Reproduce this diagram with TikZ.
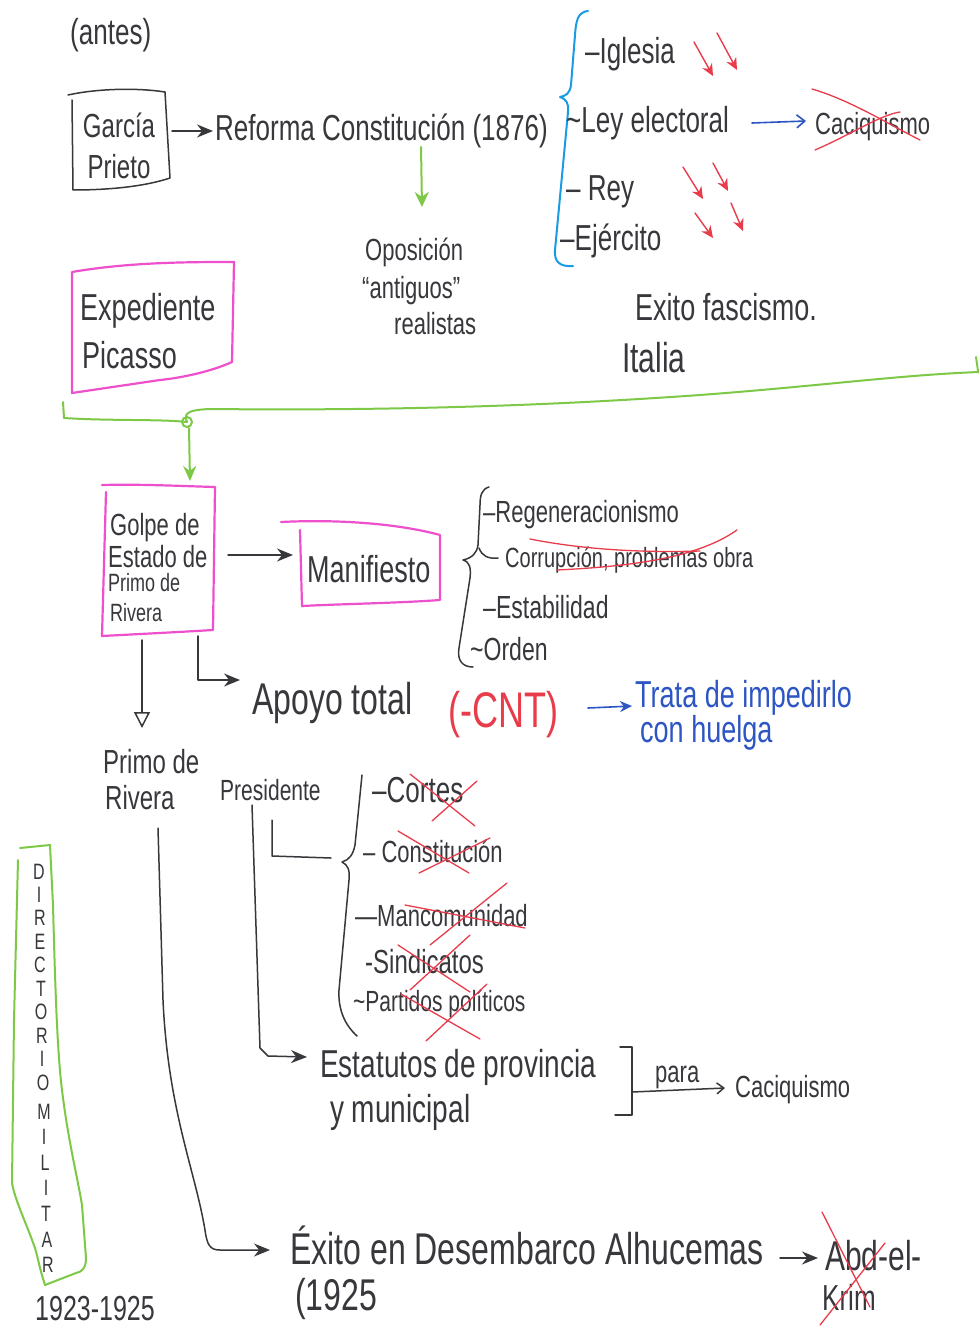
\documentclass[tikz,border=0pt]{standalone}
\usepackage{fontspec}
\setmainfont[FakeStretch=0.72]{Liberation Sans}
\usetikzlibrary{arrows.meta}
\definecolor{ink}{RGB}{55,55,60}
\definecolor{pinkm}{RGB}{238,80,205}
\definecolor{greenm}{RGB}{125,200,70}
\definecolor{cyanm}{RGB}{25,155,230}
\definecolor{bluem}{RGB}{45,85,195}
\definecolor{redm}{RGB}{232,60,75}
\newcommand\fz[1]{\fontsize{\fpeval{1.39*#1}}{\fpeval{1.6*#1}}\selectfont}
\begin{document}
\begin{tikzpicture}[x=1pt,y=-1pt,line cap=round,line join=round,
  t/.style={inner sep=0pt,anchor=base west,text=ink},
  pen/.style={draw=ink,line width=1.5pt},
  pk/.style={draw=pinkm,line width=2.2pt},
  gr/.style={draw=greenm,line width=2pt},
  cb/.style={draw=cyanm,line width=2pt},
  cross/.style={draw=redm,line width=1.3pt},
  redarr/.style={draw=redm,line width=1.4pt,-{Stealth[length=12pt,width=11pt]}},
  inkarr/.style={pen,-{Stealth[length=16pt,width=13pt]}},
  vl/.style={inner sep=0pt,anchor=center,text=ink,font=\fz{16}}]
\useasboundingbox (0,0) rectangle (979,1327);
\fill[white] (0,0) rectangle (979,1327);

% ---------- top section ----------
\node[t,font=\fz{26}] (antes) at (70,45) {(antes)};
\draw[pen] (68,95) .. controls (100,88) and (140,88) .. (165,92) -- (170,178) .. controls (140,188) and (100,190) .. (73,190) -- (72,100);
\node[t,font=\fz{24},anchor=base] (garcia) at (119,138) {García};
\node[t,font=\fz{24},anchor=base] (prieto) at (119,178) {Prieto};
\coordinate (garciaE) at (172,131);
\coordinate (reformaW) at (213,131);
\node[t,font=\fz{26}] (reforma) at (215,140) {Reforma Constitución (1876)};
\draw[inkarr] (garciaE) -- (reformaW);

\coordinate (refS) at (421,147);
\coordinate (oposN) at (422,207);
\node[t,font=\fz{22}] (opos1) at (365,260) {Oposición};
\node[t,font=\fz{22}] (opos2) at (362,298) {“antiguos”};
\node[t,font=\fz{22}] (opos3) at (394,334) {realistas};
\draw[gr,-{Stealth[length=15pt,width=14pt]}] (refS) -- (oposN);

% blue brace
\draw[cb] (588,11) .. controls (578,12) and (576,20) .. (575,35) -- (571,85) .. controls (570,93) and (566,96) .. (560,97)
          .. controls (566,99) and (569,103) .. (568,112) -- (555,250) .. controls (554,262) and (560,267) .. (573,266);
\node[t,font=\fz{26}] (iglesia) at (585,64) {–Iglesia};
\node[t,font=\fz{26}] (ley) at (566,132) {\textasciitilde Ley electoral};
\node[t,font=\fz{26}] (rey) at (566,200) {– Rey};
\node[t,font=\fz{26}] (ejercito) at (560,250) {–Ejército};

\coordinate (ig1a) at (694,42); \coordinate (ig1b) at (713,76);
\coordinate (ig2a) at (717,33); \coordinate (ig2b) at (737,70);
\coordinate (re1a) at (683,167); \coordinate (re1b) at (703,199);
\coordinate (re2a) at (713,163); \coordinate (re2b) at (728,191);
\coordinate (ej1a) at (695,213); \coordinate (ej1b) at (713,238);
\coordinate (ej2a) at (731,203); \coordinate (ej2b) at (743,231);
\draw[redarr] (ig1a) -- (ig1b);
\draw[redarr] (ig2a) -- (ig2b);
\draw[redarr] (re1a) -- (re1b);
\draw[redarr] (re2a) -- (re2b);
\draw[redarr] (ej1a) -- (ej1b);
\draw[redarr] (ej2a) -- (ej2b);

\node[t,font=\fz{22}] (caci1) at (815,135) {Caciquismo};
\coordinate (leyE) at (752,123);
\coordinate (caci1W) at (806,121);
\draw[draw=bluem,line width=1.6pt,-{Straight Barb[length=8pt,width=13pt]}] (leyE) -- (caci1W);
\draw[cross] (812,89) .. controls (850,100) and (890,125) .. (920,140);
\draw[cross] (815,150) .. controls (850,135) and (880,115) .. (900,112);

\node[t,font=\fz{27}] (fascismo) at (635,320) {Exito fascismo.};
\node[t,font=\fz{30}] (italia) at (622,372) {Italia};

% Expediente Picasso
\draw[pk] (72,272) .. controls (130,262) and (190,262) .. (234,262) -- (232,362) .. controls (210,372) and (180,378) .. (160,380) -- (72,393) -- cycle;
\node[t,font=\fz{27}] (exped) at (80,320) {Expediente};
\node[t,font=\fz{27}] (picasso) at (82,368) {Picasso};

% green timeline
\coordinate (gL) at (63,402);
\coordinate (gJ) at (187,422);
\coordinate (gR) at (979,372);
\draw[gr] (gL) -- (64,418) .. controls (110,421) and (160,419) .. (gJ)
   .. controls (183,412) and (190,410) .. (210,409)
   .. controls (400,411) and (560,405) .. (700,395)
   .. controls (820,386) and (900,375) .. (gR);
\draw[gr] (976,357) -- (978,371);
\draw[gr] (gJ) circle[radius=5];

% ---------- Golpe de Estado ----------
\draw[pk] (102,485) .. controls (140,484) and (180,486) .. (215,487) -- (213,630)
   .. controls (180,632) and (140,634) .. (102,636) -- (106,492);
\node[t,font=\fz{22}] (golpe1) at (110,535) {Golpe de};
\node[t,font=\fz{22}] (golpe2) at (108,567) {Estado de};
\node[t,font=\fz{18}] (golpe3) at (108,591) {Primo de};
\node[t,font=\fz{18}] (golpe4) at (110,621) {Rivera};
\coordinate (gJs) at (189,428);
\coordinate (golpeN) at (190,481);
\draw[gr,-{Stealth[length=15pt,width=13pt]}] (gJs) -- (golpeN);

\draw[pk] (281,522) .. controls (340,519) and (400,524) .. (440,535) -- (440,600)
   .. controls (400,603) and (340,604) .. (302,606) -- (300,530);
\node[t,font=\fz{27}] (manif) at (307,582) {Manifiesto};
\coordinate (golpeE) at (228,555);
\coordinate (manifW) at (293,555);
\draw[inkarr] (golpeE) -- (manifW);

% black brace
\draw[pen] (489,487) .. controls (482,489) and (480,495) .. (480,505) -- (478,545) .. controls (477,553) and (472,558) .. (463,560)
   .. controls (470,562) and (471,568) .. (470,578) -- (459,648) .. controls (457,660) and (462,667) .. (473,667);
\draw[pen] (479,548) .. controls (482,556) and (488,559) .. (498,558);
\node[t,font=\fz{22}] (regen) at (483,522) {–Regeneracionismo};
\node[t,font=\fz{20}] (corrup) at (505,567) {Corrupción, problemas obra};
\node[t,font=\fz{23}] (estab) at (483,618) {–Estabilidad};
\node[t,font=\fz{23}] (orden) at (470,660) {\textasciitilde Orden};
\draw[cross] (530,539) .. controls (580,549) and (640,553) .. (700,551);
\draw[cross] (557,570) .. controls (640,566) and (700,556) .. (737,530);

\coordinate (golpeS2) at (198,636);
\coordinate (apoyoW) at (240,680);
\node[t,font=\fz{32}] (apoyo) at (252,714) {Apoyo total};
\draw[inkarr] (golpeS2) -- (198,680) -- (apoyoW);
\node[t,font=\fz{36},text=redm] (cnt) at (448,727) {(-CNT)};
\node[t,font=\fz{27},text=bluem] (trata1) at (635,707) {Trata de impedirlo};
\node[t,font=\fz{27},text=bluem] (trata2) at (640,742) {con huelga};
\coordinate (cntE) at (588,708);
\coordinate (trataW) at (632,706);
\draw[draw=bluem,line width=1.6pt,-{Stealth[length=12pt,width=11pt]}] (cntE) -- (trataW);

% ---------- Primo de Rivera ----------
\coordinate (golpeS1) at (142,640);
\coordinate (primoN) at (142,728);
\node[t,font=\fz{24}] (primo1) at (103,773) {Primo de};
\node[t,font=\fz{24}] (primo2) at (105,809) {Rivera};
\draw[pen,-{Triangle[open,length=16pt,width=16pt]}] (golpeS1) -- (primoN);
\node[t,font=\fz{21}] (presi) at (220,800) {Presidente};

% brace 2
\draw[pen] (362,775) -- (355,845) .. controls (353,855) and (349,860) .. (342,862)
   .. controls (348,865) and (350,870) .. (349,880) -- (339,990) .. controls (338,1010) and (345,1025) .. (357,1036);
\node[t,font=\fz{26}] (cortes) at (372,802) {–Cortes};
\node[t,font=\fz{22}] (consti) at (363,862) {– Constitución};
\node[t,font=\fz{22}] (manco) at (355,926) {—Mancomunidad};
\node[t,font=\fz{24}] (sindi) at (365,973) {-Sindicatos};
\node[t,font=\fz{21}] (parti) at (353,1011) {\textasciitilde Partidos políticos};
\draw[cross] (410,774) -- (475,826);
\draw[cross] (432,821) -- (477,781);
\draw[cross] (398,831) -- (469,873);
\draw[cross] (419,873) -- (490,838);
\draw[cross] (405,905) -- (525,928);
\draw[cross] (430,945) -- (507,883);
\draw[cross] (398,945) -- (470,992);
\draw[cross] (410,990) -- (470,935);
\draw[cross] (401,994) -- (480,1039);
\draw[cross] (426,1041) -- (487,984);

\coordinate (presiS1) at (252,805);
\coordinate (presiS2) at (272,820);
\coordinate (brace2W) at (331,858);
\draw[pen] (presiS2) -- (272,856) -- (brace2W);
\node[t,font=\fz{28}] (estat1) at (320,1077) {Estatutos de provincia};
\node[t,font=\fz{28}] (estat2) at (330,1122) {y municipal};
\coordinate (estatW) at (307,1057);
\draw[inkarr] (presiS1) -- (260,1048) -- (268,1056) -- (estatW);

\draw[pen] (620,1047) -- (632,1047) -- (632,1115) -- (615,1115);
\coordinate (bracketE) at (632,1092);
\coordinate (caci2W) at (725,1088);
\node[t,font=\fz{22}] (para) at (655,1082) {para};
\node[t,font=\fz{22}] (caci2) at (735,1097) {Caciquismo};
\draw[pen,-{Straight Barb[length=7pt,width=11pt]}] (bracketE) -- (caci2W);

% Exito Alhucemas
\node[t,font=\fz{32}] (alhu) at (290,1264) {Éxito en Desembarco Alhucemas};
\node[t,font=\fz{32}] (alhu2) at (295,1310) {(1925};
\coordinate (primoS) at (158,828);
\coordinate (alhuW) at (270,1250);
\draw[pen,-{Stealth[length=16pt,width=13pt]}] (primoS) -- (163,1000) .. controls (168,1110) and (195,1170) .. (205,1230)
   .. controls (207,1245) and (210,1250) .. (220,1250) -- (alhuW);
\node[t,font=\fz{30}] (abd) at (825,1270) {Abd-el-};
\node[t,font=\fz{26}] (krim) at (822,1310) {Krim};
\coordinate (alhuE) at (780,1258);
\coordinate (abdW) at (818,1258);
\draw[inkarr] (alhuE) -- (abdW);
\draw[cross] (822,1212) -- (870,1307);
\draw[cross] (885,1243) -- (820,1325);

% Directorio militar
\draw[gr] (20,848) -- (50,845) -- (53,905) .. controls (55,980) and (57,1050) .. (62,1090)
   .. controls (68,1140) and (78,1180) .. (82,1205) -- (86,1258) .. controls (86,1268) and (82,1272) .. (76,1273)
   -- (45,1285) .. controls (40,1270) and (38,1258) .. (35,1248) .. controls (25,1220) and (15,1200) .. (12,1183)
   -- (14,1020) -- (18,860);
\foreach \l/\yy/\xx [count=\i] in {D/872/39,I/895/39,R/918/40,E/942/40,C/965/40,T/989/41,O/1012/41,R/1036/42,I/1059/42,O/1083/43,
   M/1112/44,I/1137/44,L/1163/45,I/1188/46,T/1214/46,A/1240/47,R/1265/48}
  \node[vl] (dir\i) at (\xx,\yy) {\l};
\node[t,font=\fz{25}] (years) at (35,1320) {1923-1925};
\end{tikzpicture}
\end{document}
